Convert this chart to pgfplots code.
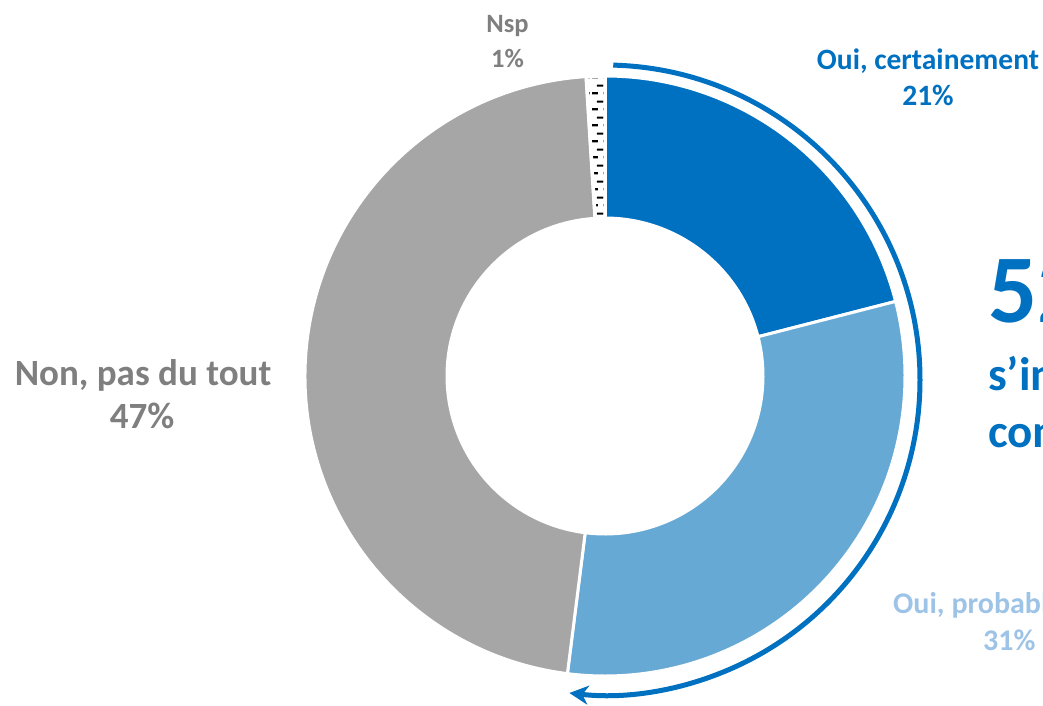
\documentclass[border=0pt]{standalone}
\usepackage{pgfplots}
\pgfplotsset{compat=1.18}
\usepackage{pgfplotstable}
\usepackage{fontspec}
\setmainfont{Carlito}
\usetikzlibrary{arrows.meta,patterns}

\definecolor{dblue}{RGB}{0,112,192}
\definecolor{lblue}{RGB}{103,169,213}
\definecolor{sgray}{RGB}{166,166,166}
\definecolor{tgray}{RGB}{127,127,127}
\definecolor{tlblue}{RGB}{157,195,230}

\pgfdeclarepatternformonly{nspdash}{\pgfpointorigin}{\pgfpoint{16pt}{16pt}}{\pgfpoint{16pt}{16pt}}{%
  \pgfsetlinewidth{2.2pt}%
  \pgfpathmoveto{\pgfpoint{0pt}{4pt}}\pgfpathlineto{\pgfpoint{6pt}{4pt}}%
  \pgfpathmoveto{\pgfpoint{11.5pt}{4pt}}\pgfpathlineto{\pgfpoint{14pt}{4pt}}%
  \pgfpathmoveto{\pgfpoint{5pt}{12pt}}\pgfpathlineto{\pgfpoint{12pt}{12pt}}%
  \pgfusepath{stroke}%
}

\pgfplotstableread{
label value
certainement 21
probablement 31
non 47
nsp 1
}\piedata

\pgfplotstablegetelem{0}{value}\of\piedata \let\va\pgfplotsretval
\pgfplotstablegetelem{1}{value}\of\piedata \let\vb\pgfplotsretval
\pgfplotstablegetelem{2}{value}\of\piedata \let\vc\pgfplotsretval
\pgfplotstablegetelem{3}{value}\of\piedata \let\vd\pgfplotsretval
\pgfmathsetmacro\aA{90}
\pgfmathsetmacro\aB{\aA-3.6*\va}
\pgfmathsetmacro\aC{\aB-3.6*\vb}
\pgfmathsetmacro\aD{\aC-3.6*\vc}
\pgfmathsetmacro\aE{\aD-3.6*\vd}

% annular sector: start angle, end angle, style
\newcommand\slice[3]{%
  \path[#3] (axis cs:605,376) ++(#1:300pt)
    arc[start angle=#1,end angle=#2,radius=300pt]
    -- ++(#2+180:142pt)
    arc[start angle=#2,end angle=#1,radius=158pt] -- cycle;}

\begin{document}
\begin{tikzpicture}
\begin{axis}[
  at={(0,0)}, anchor=south west,
  scale only axis, width=1043pt, height=705pt,
  xmin=0, xmax=1043, ymin=0, ymax=705, y dir=reverse,
  hide axis, clip=false]
  \slice{\aA}{\aB}{fill=dblue, draw=white, line width=3pt}
  \slice{\aB}{\aC}{fill=lblue, draw=white, line width=3pt}
  \slice{\aC}{\aD}{fill=sgray, draw=white, line width=3pt}
  \slice{\aD}{\aE}{fill=white}
  \slice{\aD}{\aE}{pattern=nspdash, pattern color=black}
  \slice{\aD}{\aE}{draw=white, line width=3.5pt}

  \draw[dblue, line width=5pt, -{Stealth[length=19pt,width=19pt,inset=6pt]}]
    (axis cs:605,380) ++(88.5:315pt) arc[start angle=88.5, end angle=-96.5, radius=315pt];

  \node[anchor=base, inner sep=0, text=dblue, font=\bfseries\fontsize{29.5}{30}\selectfont] at (axis cs:928,69) {Oui, certainement};
  \node[anchor=base, inner sep=0, text=dblue, font=\bfseries\fontsize{29.5}{30}\selectfont] at (axis cs:928,105) {21\%};
  \node[anchor=base, inner sep=0, text=tgray, font=\bfseries\fontsize{37}{38}\selectfont] at (axis cs:143,385) {Non, pas du tout};
  \node[anchor=base, inner sep=0, text=tgray, font=\bfseries\fontsize{37}{38}\selectfont] at (axis cs:142,428) {47\%};
  \node[anchor=base, inner sep=0, text=tgray, font=\bfseries\fontsize{26.5}{27}\selectfont] at (axis cs:507.5,32) {Nsp};
  \node[anchor=base, inner sep=0, text=tgray, font=\bfseries\fontsize{26.5}{27}\selectfont] at (axis cs:507.5,67) {1\%};
  \node[anchor=base west, inner sep=0, text=tlblue, font=\bfseries\fontsize{30}{31}\selectfont] at (axis cs:893,613) {Oui, probablement};
  \node[anchor=base west, inner sep=0, text=tlblue, font=\bfseries\fontsize{30}{31}\selectfont] at (axis cs:983,650) {31\%};
  \node[anchor=base west, inner sep=0, text=dblue, font=\bfseries\fontsize{97}{98}\selectfont] at (axis cs:988,322) {52\%};
  \node[anchor=base west, inner sep=0, text=dblue, font=\bfseries\fontsize{47}{48}\selectfont] at (axis cs:988,390) {s’intéressent};
  \node[anchor=base west, inner sep=0, text=dblue, font=\bfseries\fontsize{47}{48}\selectfont] at (axis cs:988,447) {comme};
\end{axis}
\pgfresetboundingbox
\path[use as bounding box] (0,0) rectangle (1043pt,705pt);
\end{tikzpicture}
\end{document}
